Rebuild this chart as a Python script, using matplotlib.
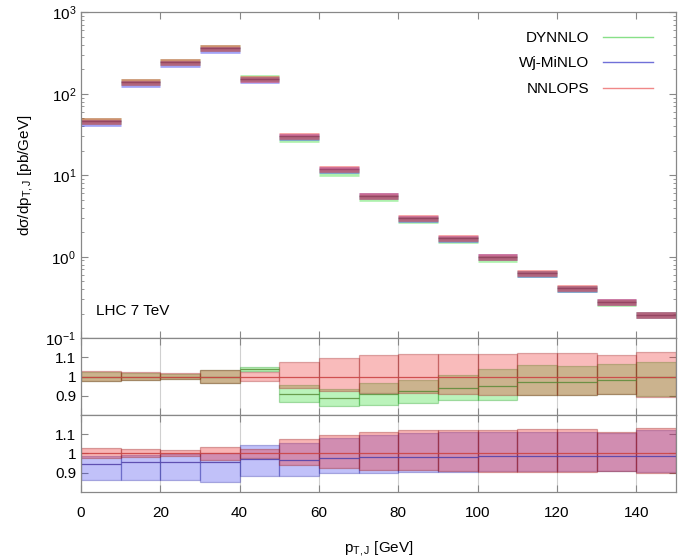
import numpy as np
import matplotlib
matplotlib.use("Agg")
import matplotlib.pyplot as plt
from matplotlib.ticker import LogLocator, NullFormatter

plt.rcParams['font.family'] = ['Liberation Sans', 'DejaVu Sans']
plt.rcParams['mathtext.fontset'] = 'custom'
plt.rcParams['mathtext.rm'] = 'Liberation Sans'
plt.rcParams['mathtext.it'] = 'Liberation Sans:italic'
plt.rcParams['mathtext.bf'] = 'Liberation Sans:bold'

# ---- data ----
bin_edges = [0, 10, 20, 30, 40, 50, 60, 70, 80, 90, 100, 110, 120, 130, 140, 150]

nnlops = [46, 140, 243, 365, 150, 30.5, 11.9, 5.6, 3.0, 1.7, 1.0, 0.63, 0.41, 0.28, 0.195]
minlo = [43.5, 133, 232, 346, 146, 29.4, 11.6, 5.5, 2.94, 1.67, 0.985, 0.62, 0.405, 0.276, 0.192]
dynnlo = [46, 140, 243, 365, 157, 27.5, 10.6, 5.2, 2.85, 1.6, 0.95, 0.61, 0.398, 0.274, 0.195]

nnlops_lo = [0.975, 0.98, 0.985, 0.965, 0.978, 0.94, 0.925, 0.914, 0.914, 0.909, 0.905, 0.905, 0.905, 0.908, 0.896]
nnlops_hi = [1.027, 1.022, 1.017, 1.035, 1.022, 1.075, 1.095, 1.112, 1.12, 1.12, 1.12, 1.125, 1.125, 1.112, 1.13]

dyn_ratio = [1.0, 1.0, 1.0, 1.0, 1.04, 0.91, 0.89, 0.91, 0.925, 0.94, 0.95, 0.97, 0.97, 0.98, 1.0]
dyn_ratio_lo = [0.978, 0.982, 0.986, 0.968, 1.03, 0.87, 0.845, 0.853, 0.862, 0.879, 0.88, 0.905, 0.905, 0.908, 0.9]
dyn_ratio_hi = [1.022, 1.018, 1.014, 1.032, 1.05, 0.955, 0.935, 0.967, 0.984, 1.01, 1.04, 1.058, 1.055, 1.068, 1.077]

minlo_ratio = [0.945, 0.955, 0.955, 0.955, 0.97, 0.965, 0.974, 0.98, 0.98, 0.98, 0.986, 0.986, 0.986, 0.986, 0.986]
minlo_ratio_lo = [0.86, 0.86, 0.86, 0.853, 0.884, 0.884, 0.896, 0.9, 0.905, 0.905, 0.907, 0.907, 0.907, 0.907, 0.905]
minlo_ratio_hi = [0.985, 0.99, 0.995, 1.0, 1.043, 1.055, 1.08, 1.097, 1.108, 1.11, 1.112, 1.112, 1.112, 1.105, 1.12]

series_names = ['DYNNLO', 'Wj-MiNLO', 'NNLOPS']
xticks = [0, 20, 40, 60, 80, 100, 120, 140]

# ---- styles ----
C_GREEN = '#33dd33'
C_BLUE = '#3333ee'
C_RED = '#ee3333'
LEG_GREEN = '#88e088'
LEG_BLUE = '#7070d8'
LEG_RED = '#f08888'
FRAME = '#888888'

edges = np.array(bin_edges, dtype=float)
lo_e = edges[:-1]
hi_e = edges[1:]
widths = hi_e - lo_e

fig = plt.figure(figsize=(6.8, 5.6), dpi=100)
ax0 = fig.add_axes([0.119, 0.396, 0.875, 0.582])
ax1 = fig.add_axes([0.119, 0.259, 0.875, 0.137])
ax2 = fig.add_axes([0.119, 0.122, 0.875, 0.137])

# main panel
for vals, c, a in [(dynnlo, C_GREEN, 0.4), (minlo, C_BLUE, 0.45), (nnlops, C_RED, 0.5)]:
    ax0.hlines(vals, lo_e, hi_e, colors=c, lw=4.8, alpha=a)
ax0.hlines(nnlops, lo_e, hi_e, colors='#702040', lw=1.0, alpha=0.45)

ax0.set_yscale('log')
ax0.set_ylim(0.1, 1000)
ax0.set_xlim(0, 150)
ax0.yaxis.set_major_locator(LogLocator(base=10, numticks=10))
ax0.yaxis.set_minor_locator(LogLocator(base=10, subs=np.arange(2, 10), numticks=20))
ax0.yaxis.set_minor_formatter(NullFormatter())
ax0.set_xticks(xticks)
ax0.set_xticklabels([])
ax0.set_ylabel('dσ/dp$_{\\mathregular{T,J}}$ [pb/GeV]', fontsize=11)
ax0.yaxis.set_label_coords(-0.078, 0.5)
ax0.text(0.025, 0.085, 'LHC 7 TeV', transform=ax0.transAxes, fontsize=11, ha='left', va='center')

handles = [plt.Line2D([], [], color=LEG_GREEN, lw=1),
           plt.Line2D([], [], color=LEG_BLUE, lw=1),
           plt.Line2D([], [], color=LEG_RED, lw=1)]
leg = ax0.legend(handles, series_names, loc='upper right', frameon=False, markerfirst=False,
                 fontsize=11, handlelength=3.3, labelspacing=0.75, bbox_to_anchor=(0.985, 0.985),
                 handletextpad=0.9)
for t in leg.get_texts():
    t.set_ha('right')


def band(ax, lo, hi, fc, ec, a):
    lo = np.array(lo)
    hi = np.array(hi)
    ax.bar(lo_e, hi - lo, bottom=lo, width=widths, align='edge', color=fc, alpha=a,
           edgecolor=ec, linewidth=0.9)


# ratio panel 1: DYNNLO vs NNLOPS
band(ax1, dyn_ratio_lo, dyn_ratio_hi, C_GREEN, (0.1, 0.6, 0.1, 0.35), 0.33)
band(ax1, nnlops_lo, nnlops_hi, C_RED, (0.6, 0.1, 0.1, 0.35), 0.33)
ax1.hlines(dyn_ratio, lo_e, hi_e, colors='#558833', lw=0.9, alpha=0.8)
ax1.hlines(np.ones(len(lo_e)), lo_e, hi_e, colors='#cc4444', lw=0.9, alpha=0.9)

# ratio panel 2: Wj-MiNLO vs NNLOPS
band(ax2, minlo_ratio_lo, minlo_ratio_hi, C_BLUE, (0.1, 0.1, 0.6, 0.35), 0.3)
band(ax2, nnlops_lo, nnlops_hi, C_RED, (0.6, 0.1, 0.1, 0.35), 0.36)
ax2.hlines(minlo_ratio, lo_e, hi_e, colors='#5544aa', lw=0.9, alpha=0.9)
ax2.hlines(np.ones(len(lo_e)), lo_e, hi_e, colors='#cc4444', lw=0.9, alpha=0.9)

for ax in (ax1, ax2):
    ax.set_xlim(0, 150)
    ax.set_ylim(0.8, 1.2)
    ax.set_yticks([0.9, 1.0, 1.1])
    ax.set_yticklabels(['0.9', '1', '1.1'])
    ax.set_xticks(xticks)
    ax.grid(axis='x', color='#d0d0d0', lw=0.8)
    ax.set_axisbelow(True)
ax1.set_xticklabels([])
ax2.set_xticklabels([str(v) for v in xticks])
ax2.set_xlabel('p$_{\\mathregular{T,J}}$ [GeV]', fontsize=11, labelpad=14)

for ax in (ax0, ax1, ax2):
    for s in ax.spines.values():
        s.set_color(FRAME)
        s.set_linewidth(0.9)
    ax.tick_params(which='both', direction='in', top=True, right=True, colors=FRAME,
                   labelcolor='black', labelsize=11)
    ax.tick_params(which='major', length=5)
    ax.tick_params(which='minor', length=2.5)
ax2.tick_params(axis='x', pad=10)

fig.savefig('out.png', dpi=100)
